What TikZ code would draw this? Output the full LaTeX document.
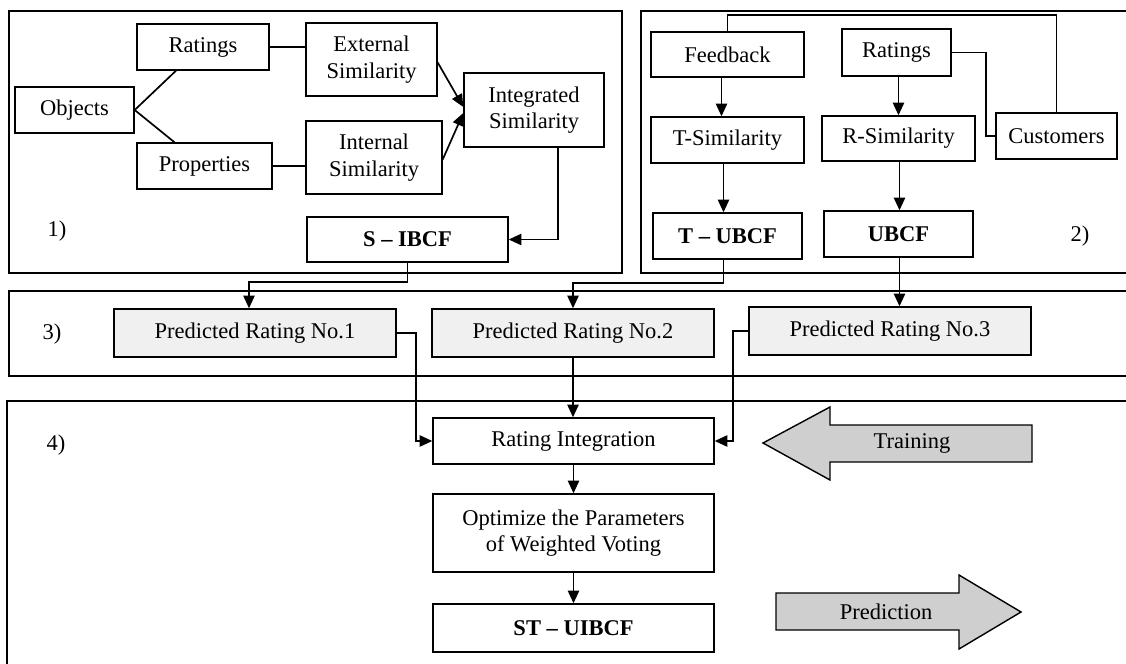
\documentclass[tikz,border=0pt]{standalone}
\usepackage{fontspec}
\setmainfont{Liberation Serif}
\usetikzlibrary{arrows.meta,calc}
\tikzset{
  box/.style={draw, line width=1pt, fill=white, inner sep=0pt, align=center, font=\fontsize{16}{19}\selectfont},
  predbox/.style={box, fill=black!6},
  panel/.style={draw, line width=1pt},
  conn/.style={line width=1.2pt},
  arr/.style={conn, -{Triangle[length=9pt,width=8pt]}},
  lbl/.style={inner sep=0pt, font=\fontsize{16}{19}\selectfont},
  bigarrow/.style={draw, line width=1pt, fill=black!19},
}
\newcommand\mkbox[7][]{%
  \node[box,#1,minimum width={(#5-#3)*0.025cm},minimum height={(#6-#4)*0.025cm}] (#2) at ({(#3+#5)/2},{(#4+#6)/2}) {#7};}
\begin{document}
\begin{tikzpicture}[x=0.025cm,y=-0.025cm]
\useasboundingbox (0,0) rectangle (1126,664);
\clip (0,0) rectangle (1126,664);
% panels
\draw[panel] (9,11) rectangle (622,273);
\draw[panel] (641,11) rectangle (1140,273);
\draw[panel] (9,291) rectangle (1140,376);
\draw[panel] (7,401) rectangle (1140,690);

% panel 1
\mkbox{Objects}{15}{87}{134}{133}{Objects}
\mkbox{RatingsA}{137}{24}{269}{70}{Ratings}
\mkbox{Properties}{137}{143}{272}{189}{Properties}
\mkbox{External}{306}{23}{437}{96}{External\\Similarity}
\mkbox{Internal}{306}{121}{442}{194}{Internal\\Similarity}
\mkbox{Integrated}{464}{73}{604}{147}{Integrated\\Similarity}
\mkbox{SIBCF}{307}{217}{508}{262}{\textbf{S -- IBCF}}
\node[lbl] (L1) at (57,231) {1)};

% panel 2
\mkbox{Feedback}{651}{32}{804}{77}{Feedback}
\mkbox{RatingsB}{842}{29}{951}{76}{Ratings}
\mkbox{TSim}{651}{117}{804}{163}{T-Similarity}
\mkbox{RSim}{822}{116}{975}{161}{R-Similarity}
\mkbox{Customers}{996}{113}{1117}{159}{Customers}
\mkbox{TUBCF}{653}{213}{802}{259}{\textbf{T -- UBCF}}
\mkbox{UBCF}{824}{211}{973}{257}{\textbf{UBCF}}
\node[lbl] (L2) at (1080,236) {2)};

% panel 3
\mkbox[predbox]{PredA}{114}{309}{396}{357}{Predicted Rating No.1}
\mkbox[predbox]{PredB}{432}{309}{714}{357}{Predicted Rating No.2}
\mkbox[predbox]{PredC}{749}{307}{1031}{355}{Predicted Rating No.3}
\node[lbl] (L3) at (52,334) {3)};

% panel 4
\mkbox{RI}{433}{418}{714}{464}{Rating Integration}
\mkbox{Opt}{433}{494}{714}{572}{Optimize the Parameters\\of Weighted Voting}
\mkbox{ST}{433}{604}{714}{652}{\textbf{ST -- UIBCF}}
\node[lbl] (L4) at (56,445) {4)};

% big arrows
\draw[bigarrow] (763,443) -- (830,407) -- (830,425) -- (1032,425) -- (1032,462) -- (830,462) -- (830,480) -- cycle;
\node[lbl] (Training) at (912,443) {Training};
\draw[bigarrow] (776,593) -- (959,593) -- (959,575) -- (1021,612) -- (959,649) -- (959,630) -- (776,630) -- cycle;
\node[lbl] (Prediction) at (886,612) {Prediction};

% connectors panel 1
\draw[conn] (Objects.east) -- ($(RatingsA.south)+(-27,0)$);
\draw[conn] (Objects.east) -- ($(Properties.north)+(-30,0)$);
\draw[conn] (RatingsA.east) -- (RatingsA.east -| External.west);
\draw[conn] (Properties.east) -- (Properties.east -| Internal.west);
\draw[arr] ($(External.east)+(0,3)$) -- ($(Integrated.west)+(0,-3)$);
\draw[arr] ($(Internal.east)+(0,2)$) -- ($(Integrated.west)+(0,3)$);
\draw[arr] ($(Integrated.south)+(24,0)$) |- (SIBCF.east);

% connectors panel 2
\draw[conn] (Feedback.north) -- ++(0,-16) -| (Customers.north);
\draw[conn] (RatingsB.east) -- ++(34,0) |- (Customers.west);
\draw[arr] ($(Feedback.south)+(-6,0)$) -- ($(TSim.north)+(-6,0)$);
\draw[arr] ($(TSim.south)+(-4,0)$) -- ($(TUBCF.north)+(-4,0)$);
\draw[arr] ($(RatingsB.south)+(2,0)$) -- (RSim.north);
\draw[arr] ($(RSim.south)+(1,0)$) -- ($(UBCF.north)+(1,0)$);

% connectors to panel 3
\coordinate (UBCFout) at ($(UBCF.south)+(1,0)$);
\draw[arr] (SIBCF.south) -- ++(0,19) -| ($(PredA.north)+(-6,0)$);
\draw[arr] ($(TUBCF.south)+(-4,0)$) -- ++(0,23) -| (PredB.north);
\draw[arr] (UBCFout) -- (UBCFout |- PredC.north);

% connectors to panel 4
\draw[arr] (PredA.east) -- ++(19,0) |- (RI.west);
\draw[arr] (PredC.west) -- ++(-15,0) |- (RI.east);
\draw[arr] (PredB.south) -- (PredB.south |- RI.north);
\draw[arr] (RI.south) -- (Opt.north);
\draw[arr] (Opt.south) -- (ST.north);
\end{tikzpicture}
\end{document}
